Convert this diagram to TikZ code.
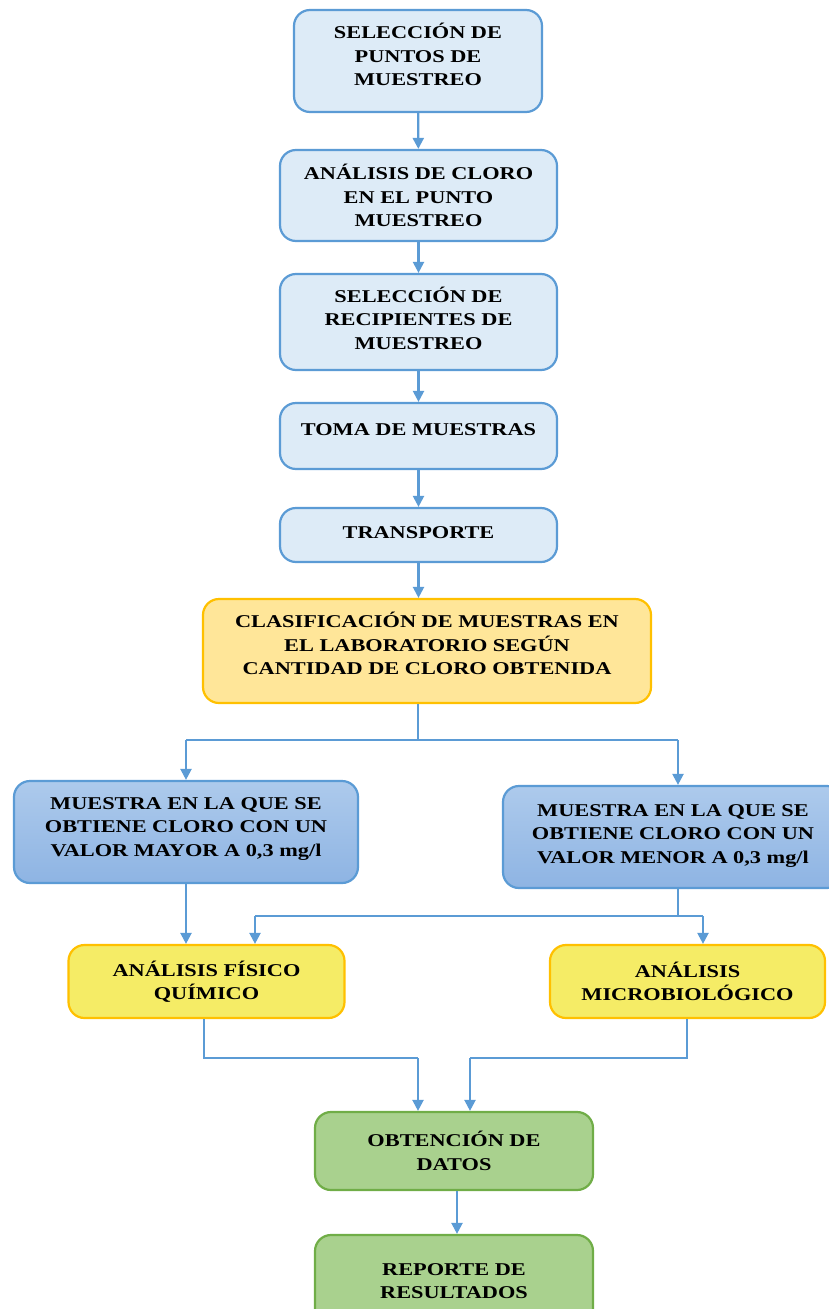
\documentclass[tikz,border=0pt]{standalone}
\usepackage{fontspec}
\setmainfont{Liberation Serif}[FakeStretch=1.24]
\usetikzlibrary{arrows.meta}

\definecolor{lineblue}{HTML}{5B9BD5}
\definecolor{paleblue}{HTML}{DDEBF7}
\definecolor{midblueA}{HTML}{ADCAEC}
\definecolor{midblueB}{HTML}{8EB4E3}
\definecolor{paleorange}{HTML}{FFE699}
\definecolor{amber}{HTML}{FFC000}
\definecolor{lemon}{HTML}{F5EC66}
\definecolor{leaf}{HTML}{A9D18E}
\definecolor{leafline}{HTML}{70AD47}

\tikzset{
  box/.style={draw, rounded corners=16pt, line width=2.2pt, align=center,
    font=\fontsize{18}{23.5}\selectfont\bfseries, text=black, inner sep=2pt},
  lift/.style={text depth=#1},
  stepbox/.style={box, draw=lineblue, fill=paleblue, minimum width=277pt},
  sortbox/.style={box, draw=amber, fill=paleorange},
  resultbox/.style={box, draw=lineblue, top color=midblueA, bottom color=midblueB},
  testbox/.style={box, draw=amber, fill=lemon, minimum width=276pt, minimum height=73pt},
  endbox/.style={box, draw=leafline, fill=leaf, minimum width=278pt},
  link/.style={draw=lineblue, line width=2.2pt},
  arr/.style={link, -{Triangle[length=11pt,width=11pt]}}
}

\begin{document}
\begin{tikzpicture}[x=1pt,y=-1pt]
\useasboundingbox (0,0) rectangle (828,1309);

% main sequence
\node[stepbox, minimum width=248pt, minimum height=102pt, lift=13pt] (n1) at (418,61)
  {SELECCIÓN DE\\PUNTOS DE\\MUESTREO};
\node[stepbox, minimum height=91pt] (n2) at (418.5,195.5)
  {ANÁLISIS DE CLORO\\EN EL PUNTO\\MUESTREO};
\node[stepbox, minimum height=96pt, lift=8pt] (n3) at (418.5,322)
  {SELECCIÓN DE\\RECIPIENTES DE\\MUESTREO};
\node[stepbox, minimum height=66pt, lift=12pt] (n4) at (418.5,436)
  {TOMA DE MUESTRAS};
\node[stepbox, minimum height=54pt, lift=5.5pt] (n5) at (418.5,535)
  {TRANSPORTE};
\node[sortbox, minimum width=448pt, minimum height=104pt, lift=15pt] (n6) at (427,651)
  {CLASIFICACIÓN DE MUESTRAS EN\\EL LABORATORIO SEGÚN\\CANTIDAD DE CLORO OBTENIDA};

% branch by chlorine level
\node[resultbox, minimum width=344pt, minimum height=102pt, lift=10pt] (n7) at (186,832)
  {MUESTRA EN LA QUE SE\\OBTIENE CLORO CON UN\\VALOR MAYOR A 0,3 mg/l};
\node[resultbox, minimum width=340pt, minimum height=102pt, lift=6pt] (n8) at (673,837)
  {MUESTRA EN LA QUE SE\\OBTIENE CLORO CON UN\\VALOR MENOR A 0,3 mg/l};

% laboratory tests
\node[testbox] (n9) at (206.5,981.5) {ANÁLISIS FÍSICO\\QUÍMICO};
\node[testbox, minimum width=275pt] (n10) at (687.5,981.5) {ANÁLISIS\\MICROBIOLÓGICO};

% results
\node[endbox, minimum height=78pt] (n11) at (454,1151) {OBTENCIÓN DE\\DATOS};
\node[endbox, minimum height=92pt] (n12) at (454,1281) {REPORTE DE\\RESULTADOS};

% junction points
\coordinate (split) at (418,740);
\coordinate (left) at (186,740);
\coordinate (right) at (678,740);
\coordinate (j2) at (678,916);
\coordinate (a9) at (255,916);
\coordinate (a10) at (703,916);
\coordinate (b1) at (418,1058);
\coordinate (b2) at (470,1058);
\coordinate (c1) at (457,1190);

% connectors
\draw[arr] (n1) -- (n2);
\draw[arr] (n2) -- (n3);
\draw[arr] (n3) -- (n4);
\draw[arr] (n4) -- (n5);
\draw[arr] (n5.south) -- (n5.south |- n6.north);
\draw[link] (n6.south -| split) -- (split);
\draw[link] (left) -- (right);
\draw[arr] (left) -- (left |- n7.north);
\draw[arr] (right) -- (right |- n8.north);
\draw[arr] (n7.south) -- (n7.south |- n9.north);
\draw[link] (j2 |- n8.south) -- (j2);
\draw[link] (a9) -- (a10);
\draw[arr] (a9) -- (a9 |- n9.north);
\draw[arr] (a10) -- (a10 |- n10.north);
\draw[link] (n9.south -| 204,0) |- (b1);
\draw[arr] (b1) -- (b1 |- n11.north);
\draw[link] (n10.south -| 687,0) |- (b2);
\draw[arr] (b2) -- (b2 |- n11.north);
\draw[arr] (c1 |- n11.south) -- (c1 |- n12.north);
\end{tikzpicture}
\end{document}
